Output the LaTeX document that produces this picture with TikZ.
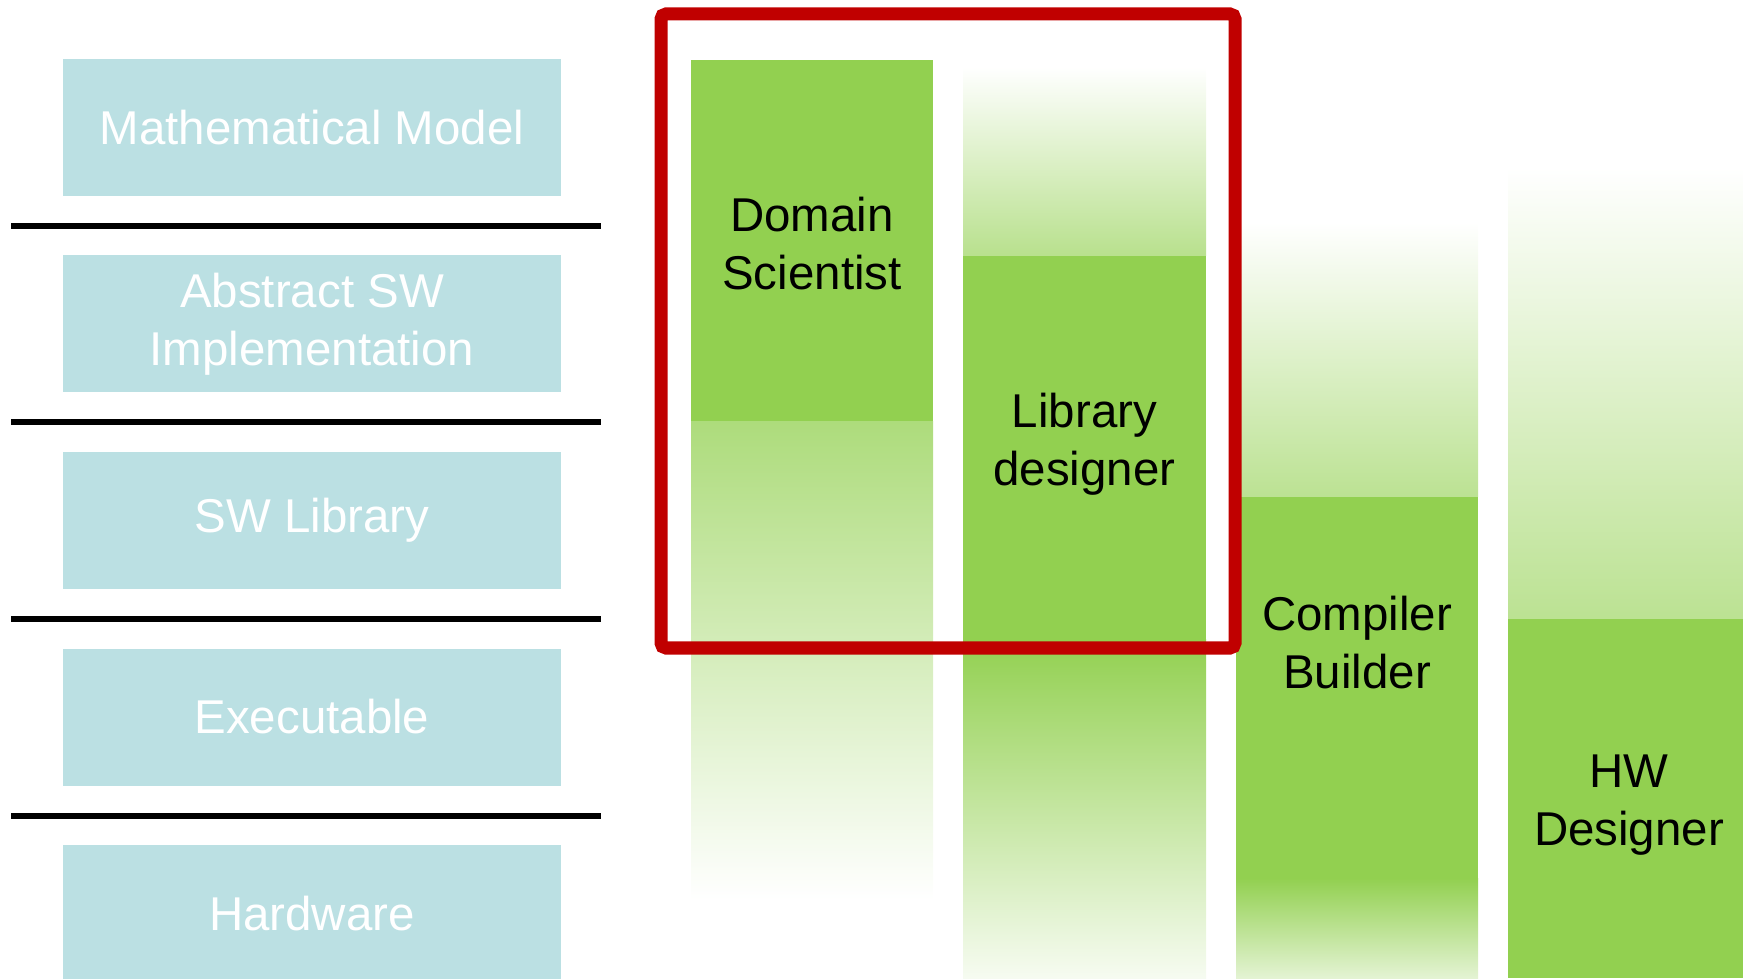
\documentclass[tikz,border=0pt]{standalone}
\usepackage{fontspec}
\setmainfont{Liberation Sans}
\usepackage{tikz}
\usetikzlibrary{positioning}

\definecolor{layerblue}{HTML}{BBE0E3}
\definecolor{rolegreen}{HTML}{92D050}
\definecolor{focusred}{HTML}{C00000}

\begin{document}
\begin{tikzpicture}[
		layer/.style={fill=layerblue, text=white, minimum width=4.98cm, minimum height=1.37cm, inner sep=0pt, align=center},
		role/.style={text=black, align=center},
		every node/.style={font=\fontsize{13.5}{16.5}\selectfont}
	]
		\useasboundingbox (0,0) rectangle (17.43,9.78);
		\clip (0,0) rectangle (17.43,9.78);
		
		% draw the layers on the left
		\node[layer] (model) at (3.12,8.505) {Mathematical Model};
		\node[layer] (abstract) at (3.12,6.54) {Abstract SW\\Implementation};
		\node[layer] (library) at (3.12,4.575) {SW Library};
		\node[layer] (exec) at (3.12,2.61) {Executable};
		\node[layer] (hardware) at (3.12,0.645) {Hardware};
		
		% draw separating lines
		\foreach \y in {7.52,5.56,3.59,1.62}
		\draw[line width=0.055cm] (0.11,\y) -- (6.01,\y);
		
		% domain scientist column
		\fill[rolegreen] (6.91,9.18) rectangle (9.33,5.56);
		\shade[top color=rolegreen!75!white, bottom color=white] (6.91,5.56) rectangle (9.33,0.78);
		
		% library designer column
		\shade[top color=white, bottom color=rolegreen!65!white] (9.63,9.11) rectangle (12.06,7.22);
		\fill[rolegreen] (9.63,7.22) rectangle (12.06,3.39);
		\shade[top color=rolegreen, bottom color=rolegreen!8!white] (9.63,3.39) rectangle (12.06,0);
		
		% compiler builder column
		\shade[top color=white, bottom color=rolegreen!62!white] (12.36,7.56) rectangle (14.78,4.81);
		\fill[rolegreen] (12.36,4.81) rectangle (14.78,1.00);
		\shade[top color=rolegreen, bottom color=rolegreen!25!white] (12.36,1.00) rectangle (14.78,0);
		
		% hardware designer column
		\shade[top color=white, bottom color=rolegreen!62!white] (15.08,8.11) rectangle (17.43,3.59);
		\fill[rolegreen] (15.08,3.59) rectangle (17.43,0);
		
		% role labels
		\node[role] (scientist) at (8.12,7.34) {Domain\\Scientist};
		\node[role] (libdesigner) at (10.845,5.34) {Library\\designer};
		\node[role] (compiler) at (13.57,3.35) {Compiler\\Builder};
		\node[role] (hwdesigner) at (16.29,1.73) {HW\\Designer};
		
		% highlight frame
		\draw[focusred, line width=0.13cm, rounded corners=0.05cm] (6.61,9.64) rectangle (12.35,3.30);
		
		\end{tikzpicture}
\end{document}
